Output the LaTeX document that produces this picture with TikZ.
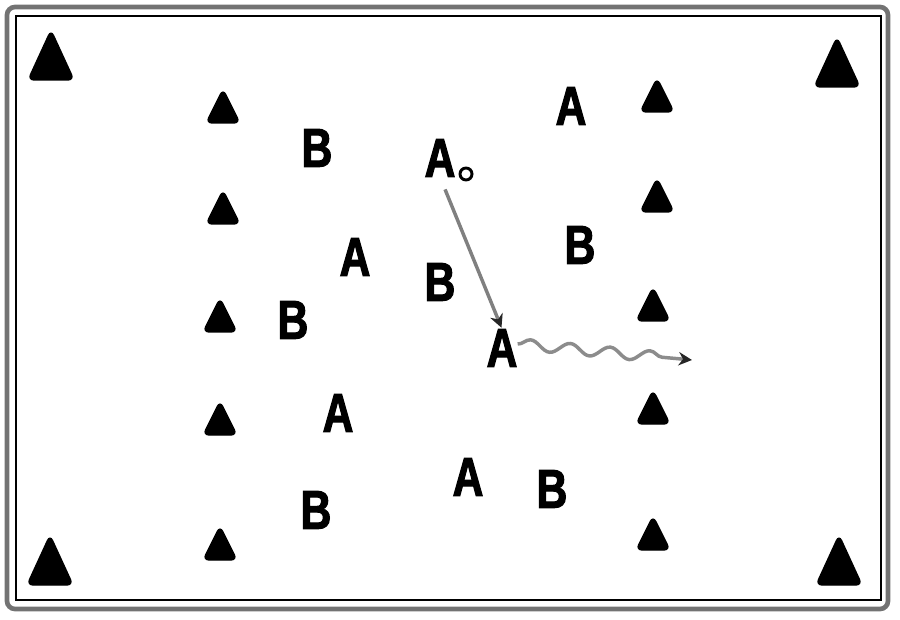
\documentclass[tikz,border=0pt]{standalone}
\usepackage{fontspec}
\newfontfamily\drillfont[FakeStretch=0.78,FakeBold=2]{Liberation Sans}
\usetikzlibrary{arrows.meta,decorations.pathmorphing}

\begin{document}
\begin{tikzpicture}[x=0.75pt,y=0.75pt,yscale=-1,xscale=1,
  player/.style={inner sep=0pt,font=\drillfont\fontsize{41}{41}\selectfont\bfseries},
  cone/.style={fill=black,draw=black,line width=1pt,rounded corners=4.5pt},
  ball/.style={circle,draw,fill=white,line width=2.2pt,inner sep=0pt,minimum size=9pt},
  pass/.style={draw=black!50,line width=2.6pt,-{Stealth[length=10pt,width=10pt,black!85]}},
  dribble/.style={draw=black!45,line width=2.6pt,decorate,
    decoration={snake,amplitude=4pt,segment length=30pt,post length=10pt},
    -{Stealth[length=10pt,width=10pt,black!85]}}]
\useasboundingbox (0,0) rectangle (900,620);

%Frame
\draw[black!55,line width=3.5pt,rounded corners=6pt] (7,7) rectangle (888,609);
\draw[line width=1.5pt] (16,16) rectangle (881,600);

%Corner cones
\foreach \x/\y in {51/55,837/62,50/560,839/560}
  \filldraw[cone] (\x-23,\y+25) -- (\x,\y-25) -- (\x+23,\y+25) -- cycle;

%Cone lines
\foreach \x/\y in {223/106,223/207,220/315,220/418,220/543,657/95,657/195,653/304,653/407,653/533}
  \filldraw[cone] (\x-17,\y+17) -- (\x,\y-17) -- (\x+17,\y+17) -- cycle;

%Players
\node[player] (B1) at (317,148) {B};
\node[player] (A1) at (440,158) {A};
\node[player] (A2) at (571,106) {A};
\node[player] (A3) at (355,257) {A};
\node[player] (B2) at (440,282) {B};
\node[player] (B3) at (580,245) {B};
\node[player] (B4) at (293,320) {B};
\node[player] (A4) at (502,348) {A};
\node[player] (A5) at (338,413) {A};
\node[player] (A6) at (468,477) {A};
\node[player] (B5) at (552,489) {B};
\node[player] (B6) at (316,510) {B};

%Ball
\node[ball] (ball) at (466,174) {};

%Pass and dribble
\coordinate (run) at (692,360);
\draw[pass,shorten <=10pt,shorten >=1pt] (A1.south) -- (A4.north);
\draw[dribble] ([yshift=-3pt]A4.east) -- (run);

\end{tikzpicture}
\end{document}
